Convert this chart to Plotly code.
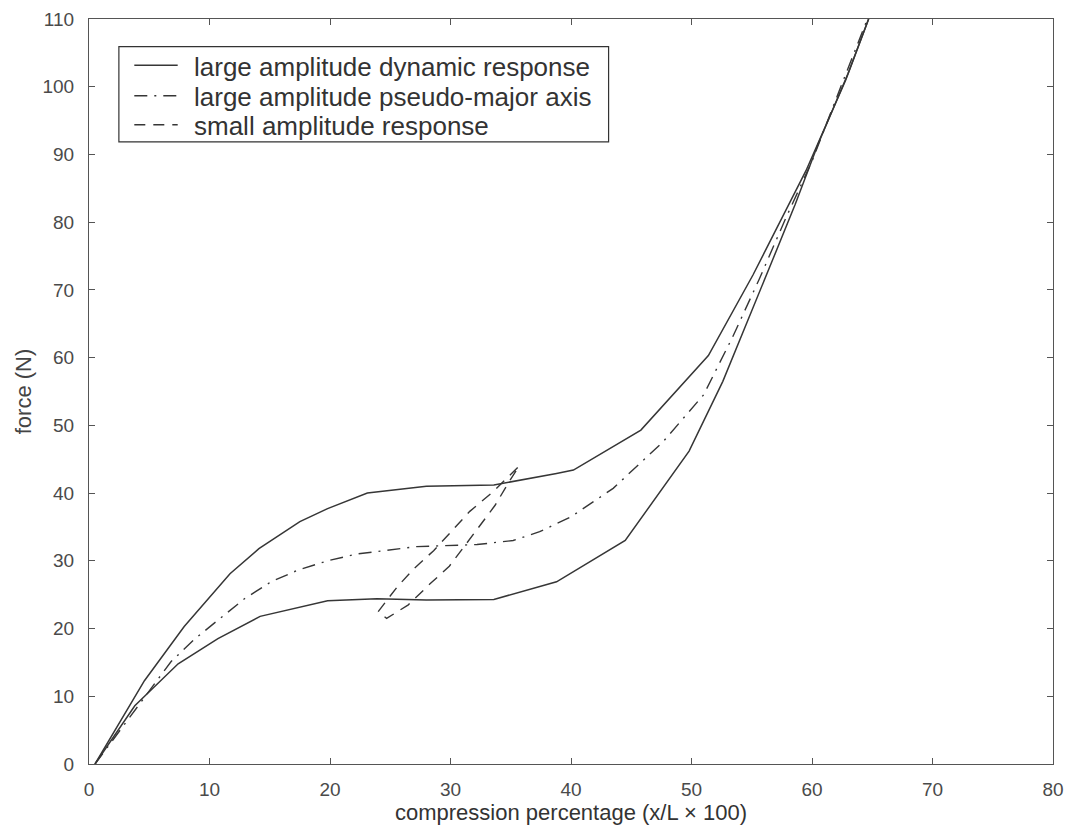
import plotly.graph_objects as go

# Large amplitude dynamic response: upper (loading) branch
upper_x = [0.5, 4.6, 7.9, 11.7, 14.1, 17.5, 19.8, 23.1, 28.0, 33.6, 38.8, 40.2, 45.8, 51.4, 55.1, 59.5, 62.8, 64.7]
upper_y = [0.0, 12.3, 20.3, 28.1, 31.8, 35.8, 37.7, 40.0, 41.0, 41.2, 42.9, 43.4, 49.3, 60.3, 72.2, 87.6, 101.0, 110.0]

# Large amplitude dynamic response: lower (unloading) branch
lower_x = [0.5, 3.8, 7.4, 10.7, 14.2, 19.8, 23.9, 28.0, 33.6, 38.8, 44.5, 47.0, 49.8, 52.6, 54.8, 56.7, 58.6, 60.5, 63.0, 64.7]
lower_y = [0.0, 8.6, 14.8, 18.5, 21.8, 24.1, 24.4, 24.2, 24.3, 26.9, 33.0, 39.2, 46.2, 56.5, 65.9, 74.3, 82.6, 91.5, 102.0, 110.0]

# Large amplitude pseudo-major axis
mid_x = [0.5, 3.0, 6.8, 8.8, 10.7, 12.9, 15.1, 17.3, 19.8, 22.2, 27.2, 32.2, 35.2, 37.4, 40.0, 43.5, 47.6, 51.0, 53.4, 55.6, 57.8, 60.0, 62.5, 64.6]
mid_y = [0.0, 6.0, 15.1, 18.5, 21.2, 24.4, 26.9, 28.6, 30.0, 31.0, 32.1, 32.4, 33.0, 34.3, 36.5, 40.7, 47.5, 54.5, 63.0, 71.5, 80.5, 89.0, 100.5, 110.0]

# Small amplitude response (closed loop)
small_x = [24.0, 25.6, 27.0, 28.6, 29.9, 31.6, 33.6, 35.7, 34.8, 33.7, 32.4, 31.1, 29.9, 28.3, 26.5, 24.7, 24.0]
small_y = [22.5, 26.2, 28.9, 31.5, 34.0, 37.3, 40.3, 44.0, 41.5, 38.2, 35.1, 32.1, 29.2, 26.6, 23.5, 21.5, 22.5]

x_ticks = [0, 10, 20, 30, 40, 50, 60, 70, 80]
y_ticks = [0, 10, 20, 30, 40, 50, 60, 70, 80, 90, 100, 110]

legend_labels = ["large amplitude dynamic response",
                 "large amplitude pseudo-major axis",
                 "small amplitude response"]

LINE = "#363636"
DASHDOT = "13px,7px,2px,7px"
DASH = "11px,8px"
styles = ["solid", DASHDOT, DASH]

fig = go.Figure()
fig.add_trace(go.Scatter(x=upper_x, y=upper_y, mode="lines",
                         line=dict(color=LINE, width=1.5),
                         name=legend_labels[0], showlegend=False))
fig.add_trace(go.Scatter(x=lower_x, y=lower_y, mode="lines",
                         line=dict(color=LINE, width=1.5),
                         name=legend_labels[0], showlegend=False))
fig.add_trace(go.Scatter(x=mid_x, y=mid_y, mode="lines",
                         line=dict(color=LINE, width=1.4, dash=DASHDOT),
                         name=legend_labels[1], showlegend=False))
fig.add_trace(go.Scatter(x=small_x, y=small_y, mode="lines",
                         line=dict(color=LINE, width=1.4, dash=DASH),
                         name=legend_labels[2], showlegend=False))

# Legend drawn as box + sample lines + text (paper coordinates)
fig.add_shape(type="rect", xref="paper", yref="paper",
              x0=0.031, x1=0.539, y0=0.835, y1=0.963,
              line=dict(color="#333", width=1.2), fillcolor="white", layer="above")
row_y = [0.938, 0.897, 0.858]
for lbl, st, yy in zip(legend_labels, styles, row_y):
    fig.add_shape(type="line", xref="paper", yref="paper",
                  x0=0.047, x1=0.092, y0=yy, y1=yy,
                  line=dict(color=LINE, width=1.5, dash=st), layer="above")
    fig.add_annotation(xref="paper", yref="paper", x=0.107, y=yy - 0.002,
                       xanchor="left", yanchor="middle", showarrow=False,
                       text=lbl, font=dict(family="Arial", size=26, color="#333"))

axis_common = dict(
    showgrid=False, zeroline=False, showline=True, linecolor="#555", linewidth=1.2,
    mirror="allticks", ticks="inside", ticklen=6, tickcolor="#555",
    tickfont=dict(family="Arial", size=19, color="#4a4a4a"),
    ticklabeloverflow="allow", automargin=False,
)

fig.update_layout(
    width=1066, height=825,
    margin=dict(l=89, r=13, t=19, b=61),
    paper_bgcolor="white", plot_bgcolor="white",
    font=dict(family="Arial", color="#333"),
    xaxis=dict(range=[0, 80], tickvals=x_ticks, ticklabelstandoff=8,
               title=dict(text="compression percentage (x/L × 100)",
                          font=dict(size=22, color="#333"), standoff=4),
               **axis_common),
    yaxis=dict(range=[0, 110], tickvals=y_ticks, ticklabelstandoff=10,
               title=dict(text="force (N)", font=dict(size=22, color="#444"), standoff=4),
               **axis_common),
    showlegend=False,
)

fig.write_html("out.html")
